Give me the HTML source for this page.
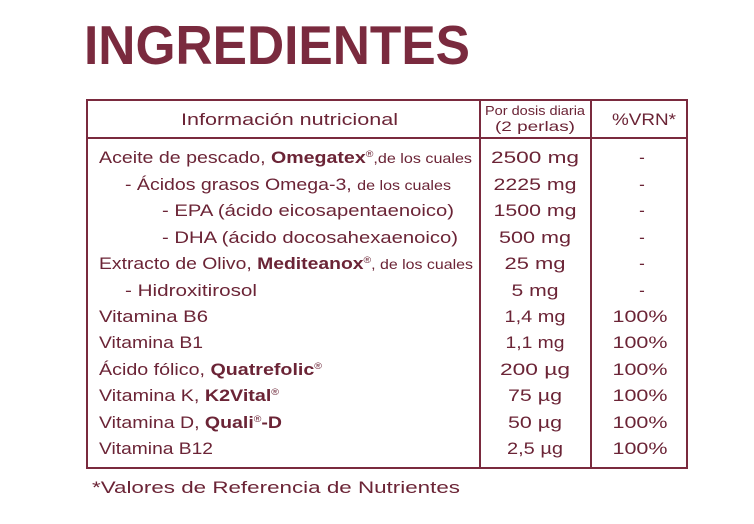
<!DOCTYPE html>
<html><head><meta charset="utf-8"><style>
html,body{margin:0;padding:0;background:#fff;}
svg{display:block;font-family:"Liberation Sans",sans-serif;}
</style></head><body>
<svg width="754" height="524" viewBox="0 0 754 524" xmlns="http://www.w3.org/2000/svg">
<text x="84" y="64" font-size="55" font-weight="bold" fill="#7a2a3e" textLength="386" lengthAdjust="spacingAndGlyphs">INGREDIENTES</text>
<g stroke="#7a2a3e" stroke-width="2" fill="none">
<rect x="87" y="100" width="600" height="368"/>
<line x1="87" y1="138" x2="687" y2="138"/>
<line x1="480" y1="100" x2="480" y2="468"/>
<line x1="591" y1="100" x2="591" y2="468"/>
</g>
<g fill="#6b2436" font-size="17">
<text x="181" y="125" textLength="217" lengthAdjust="spacingAndGlyphs">Información nutricional</text>
<text x="535" y="115" text-anchor="middle" font-size="12.5" textLength="100" lengthAdjust="spacingAndGlyphs">Por dosis diaria</text>
<text x="535" y="131" text-anchor="middle" font-size="14" textLength="80" lengthAdjust="spacingAndGlyphs">(2 perlas)</text>
<text x="612" y="125" textLength="64" lengthAdjust="spacingAndGlyphs">%VRN*</text>

<text x="99" y="163" textLength="373" lengthAdjust="spacingAndGlyphs">Aceite de pescado, <tspan font-weight="bold">Omegatex</tspan><tspan font-size="9" dy="-6">®</tspan><tspan dy="6" font-size="14">,de los cuales</tspan></text>
<text x="125" y="190" textLength="326" lengthAdjust="spacingAndGlyphs">- Ácidos grasos Omega-3, <tspan font-size="14">de los cuales</tspan></text>
<text x="162" y="216" textLength="292" lengthAdjust="spacingAndGlyphs">- EPA (ácido eicosapentaenoico)</text>
<text x="162" y="243" textLength="296" lengthAdjust="spacingAndGlyphs">- DHA (ácido docosahexaenoico)</text>
<text x="99" y="269" textLength="374" lengthAdjust="spacingAndGlyphs">Extracto de Olivo, <tspan font-weight="bold">Mediteanox</tspan><tspan font-size="9" dy="-6">®</tspan><tspan dy="6" font-size="14">, de los cuales</tspan></text>
<text x="125" y="296" textLength="132" lengthAdjust="spacingAndGlyphs">- Hidroxitirosol</text>
<text x="99" y="322" textLength="109" lengthAdjust="spacingAndGlyphs">Vitamina B6</text>
<text x="99" y="348" textLength="104" lengthAdjust="spacingAndGlyphs">Vitamina B1</text>
<text x="99" y="375" textLength="223" lengthAdjust="spacingAndGlyphs">Ácido fólico, <tspan font-weight="bold">Quatrefolic</tspan><tspan font-size="9" dy="-6">®</tspan></text>
<text x="99" y="401" textLength="180" lengthAdjust="spacingAndGlyphs">Vitamina K, <tspan font-weight="bold">K2Vital</tspan><tspan font-size="9" dy="-6">®</tspan></text>
<text x="99" y="428" textLength="183" lengthAdjust="spacingAndGlyphs">Vitamina D, <tspan font-weight="bold">Quali</tspan><tspan font-size="9" dy="-6">®</tspan><tspan dy="6" font-weight="bold">-D</tspan></text>
<text x="99" y="454" textLength="114" lengthAdjust="spacingAndGlyphs">Vitamina B12</text>

<g text-anchor="middle">
<text x="535" y="163" textLength="88" lengthAdjust="spacingAndGlyphs">2500 mg</text>
<text x="535" y="190" textLength="83" lengthAdjust="spacingAndGlyphs">2225 mg</text>
<text x="535" y="216" textLength="83" lengthAdjust="spacingAndGlyphs">1500 mg</text>
<text x="535" y="243" textLength="72" lengthAdjust="spacingAndGlyphs">500 mg</text>
<text x="535" y="269" textLength="61" lengthAdjust="spacingAndGlyphs">25 mg</text>
<text x="535" y="296" textLength="47" lengthAdjust="spacingAndGlyphs">5 mg</text>
<text x="535" y="322" textLength="61" lengthAdjust="spacingAndGlyphs">1,4 mg</text>
<text x="535" y="348" textLength="59" lengthAdjust="spacingAndGlyphs">1,1 mg</text>
<text x="535" y="375" textLength="70" lengthAdjust="spacingAndGlyphs">200 µg</text>
<text x="535" y="401" textLength="54" lengthAdjust="spacingAndGlyphs">75 µg</text>
<text x="535" y="428" textLength="54" lengthAdjust="spacingAndGlyphs">50 µg</text>
<text x="535" y="454" textLength="56" lengthAdjust="spacingAndGlyphs">2,5 µg</text>
<text x="642" y="163">-</text>
<text x="642" y="190">-</text>
<text x="642" y="216">-</text>
<text x="642" y="243">-</text>
<text x="642" y="269">-</text>
<text x="642" y="296">-</text>
<text x="640" y="322" textLength="55" lengthAdjust="spacingAndGlyphs">100%</text>
<text x="640" y="348" textLength="55" lengthAdjust="spacingAndGlyphs">100%</text>
<text x="640" y="375" textLength="55" lengthAdjust="spacingAndGlyphs">100%</text>
<text x="640" y="401" textLength="55" lengthAdjust="spacingAndGlyphs">100%</text>
<text x="640" y="428" textLength="55" lengthAdjust="spacingAndGlyphs">100%</text>
<text x="640" y="454" textLength="55" lengthAdjust="spacingAndGlyphs">100%</text>
</g>
<text x="92" y="493" textLength="368" lengthAdjust="spacingAndGlyphs">*Valores de Referencia de Nutrientes</text>
</g>
</svg>
</body></html>
